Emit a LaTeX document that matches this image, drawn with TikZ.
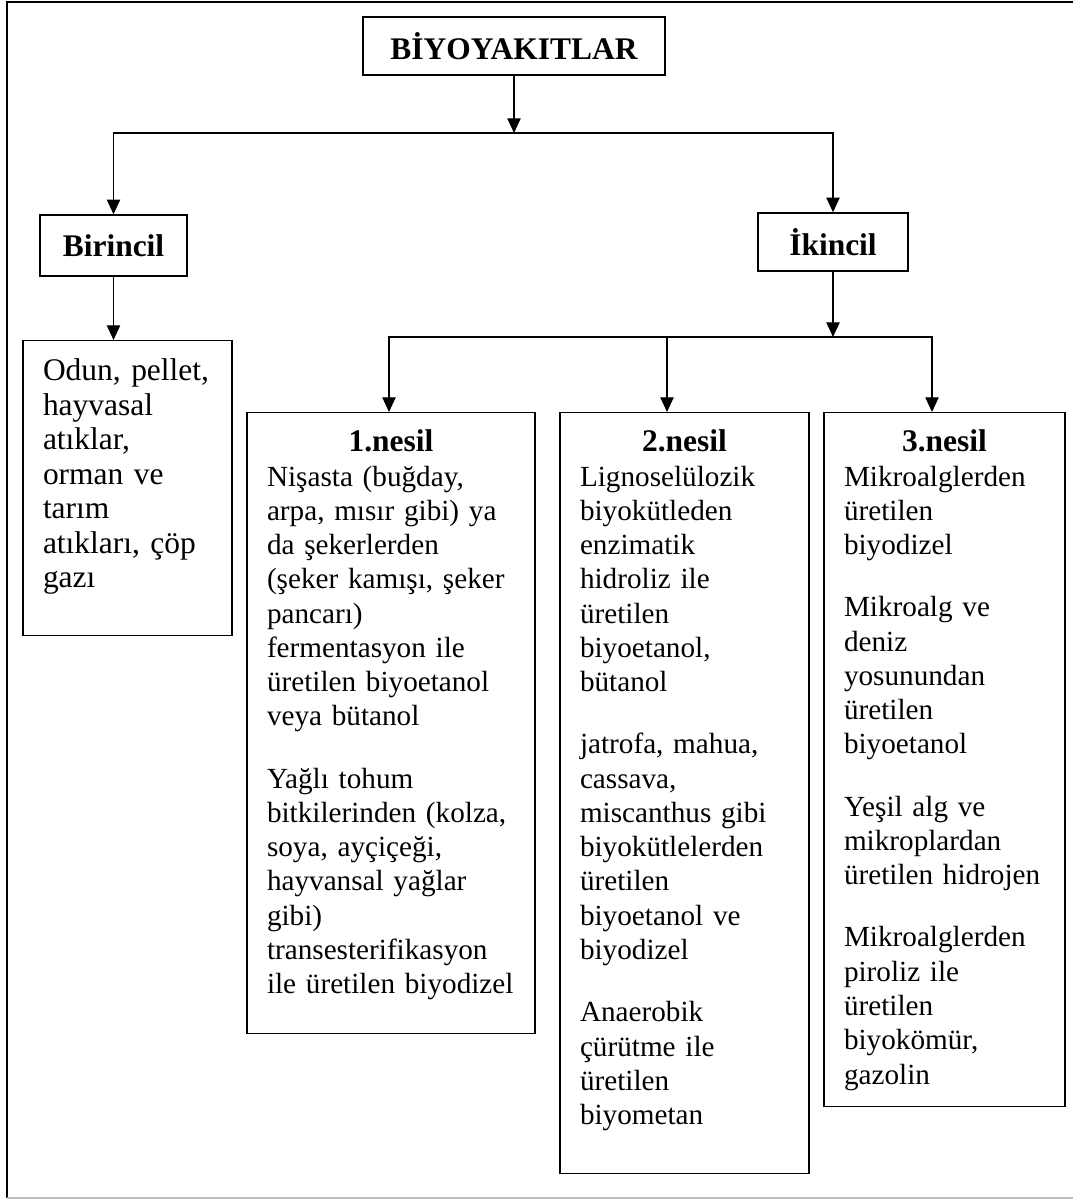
\documentclass[tikz,border=0pt]{standalone}
\usepackage{fontspec}
\setmainfont{Liberation Serif}
\usetikzlibrary{arrows.meta,positioning}
\newcommand\bodyfont{\fontsize{21.9pt}{25.7pt}\selectfont}
\newcommand\headfont{\fontsize{23.6pt}{25.7pt}\selectfont\bfseries}
\newcommand\gap{\\[21pt]}
\tikzstyle{headbox}=[draw,line width=1.1pt,font=\headfont,inner sep=0pt,align=center]
\tikzstyle{listbox}=[draw,line width=1.1pt,font=\bodyfont,align=left,inner xsep=15pt,inner ysep=0pt,anchor=north]
\tikzstyle{conn}=[line width=0.9pt,line cap=rect]
\tikzstyle{arr}=[conn,-{Triangle[length=11pt,width=10pt]}]

\begin{document}
\begin{tikzpicture}[x=0.75pt,y=-0.75pt]
    \useasboundingbox (0,0) rectangle (1073,1201);
    % page frame
    \draw[line width=1.5pt] (1073,2) -- (7,2) -- (7,1198);
    \draw[line width=1.5pt,black!25] (7,1198) -- (1073,1198);
    % upper level
    \node[headbox,minimum width=226.5pt,minimum height=43.5pt] (root) at (514,46) {BİYOYAKITLAR};
    \node[headbox,minimum width=110.25pt,minimum height=45.75pt] (birincil) at (113.5,245.5) {Birincil};
    \node[headbox,minimum width=112.5pt,minimum height=43.5pt] (ikincil) at (833,242) {İkincil};
    % lower level
    \node[listbox,font=\fontsize{23.6pt}{25.9pt}\selectfont,text width=126.75pt,text height=30pt,text depth=191.25pt] (odun) at (127.5,340)
      {Odun, pellet,\\ hayvasal\\ atıklar,\\ orman ve\\ tarım\\ atıkları, çöp\\ gazı};
    \node[listbox,text width=186pt,text height=29.25pt,text depth=436.5pt] (nesil1) at (391,412)
      {{\centering\headfont 1.nesil\par}Nişasta (buğday,\\ arpa, mısır gibi) ya\\ da şekerlerden\\ (şeker kamışı, şeker\\ pancarı)\\ fermentasyon ile\\ üretilen biyoetanol\\ veya bütanol\gap
       Yağlı tohum\\ bitkilerinden (kolza,\\ soya, ayçiçeği,\\ hayvansal yağlar\\ gibi)\\ transesterifikasyon\\ ile üretilen biyodizel};
    \node[listbox,text width=156.75pt,text height=29.25pt,text depth=541.5pt] (nesil2) at (684.5,412)
      {{\centering\headfont 2.nesil\par}Lignoselülozik\\ biyokütleden\\ enzimatik\\ hidroliz ile\\ üretilen\\ biyoetanol,\\ bütanol\gap
       jatrofa, mahua,\\ cassava,\\ miscanthus gibi\\ biyokütlelerden\\ üretilen\\ biyoetanol ve\\ biyodizel\gap
       Anaerobik\\ çürütme ile\\ üretilen\\ biyometan};
    \node[listbox,text width=150.75pt,text height=29.25pt,text depth=491.25pt] (nesil3) at (944.5,412)
      {{\centering\headfont 3.nesil\par}Mikroalglerden\\ üretilen\\ biyodizel\gap
       Mikroalg ve\\ deniz\\ yosunundan\\ üretilen\\ biyoetanol\gap
       Yeşil alg ve\\ mikroplardan\\ üretilen hidrojen\gap
       Mikroalglerden\\ piroliz ile\\ üretilen\\ biyokömür,\\ gazolin};
    % connectors
    \coordinate (bus1) at (514,133);
    \draw[arr] (root) -- (bus1);
    \draw[arr] (bus1) -| (birincil);
    \draw[arr] (bus1) -| (ikincil);
    \draw[arr] (birincil) -- (birincil.south |- odun.north);
    \coordinate (bus2) at (833,337);
    \coordinate (drop1) at (389,337);
    \coordinate (drop2) at (667,337);
    \coordinate (drop3) at (932,337);
    \draw[arr] (ikincil) -- (bus2);
    \draw[conn] (drop1) -- (drop3);
    \foreach \d/\n in {drop1/nesil1,drop2/nesil2,drop3/nesil3}
      \draw[arr] (\d) -- (\d |- \n.north);
\end{tikzpicture}
\end{document}
